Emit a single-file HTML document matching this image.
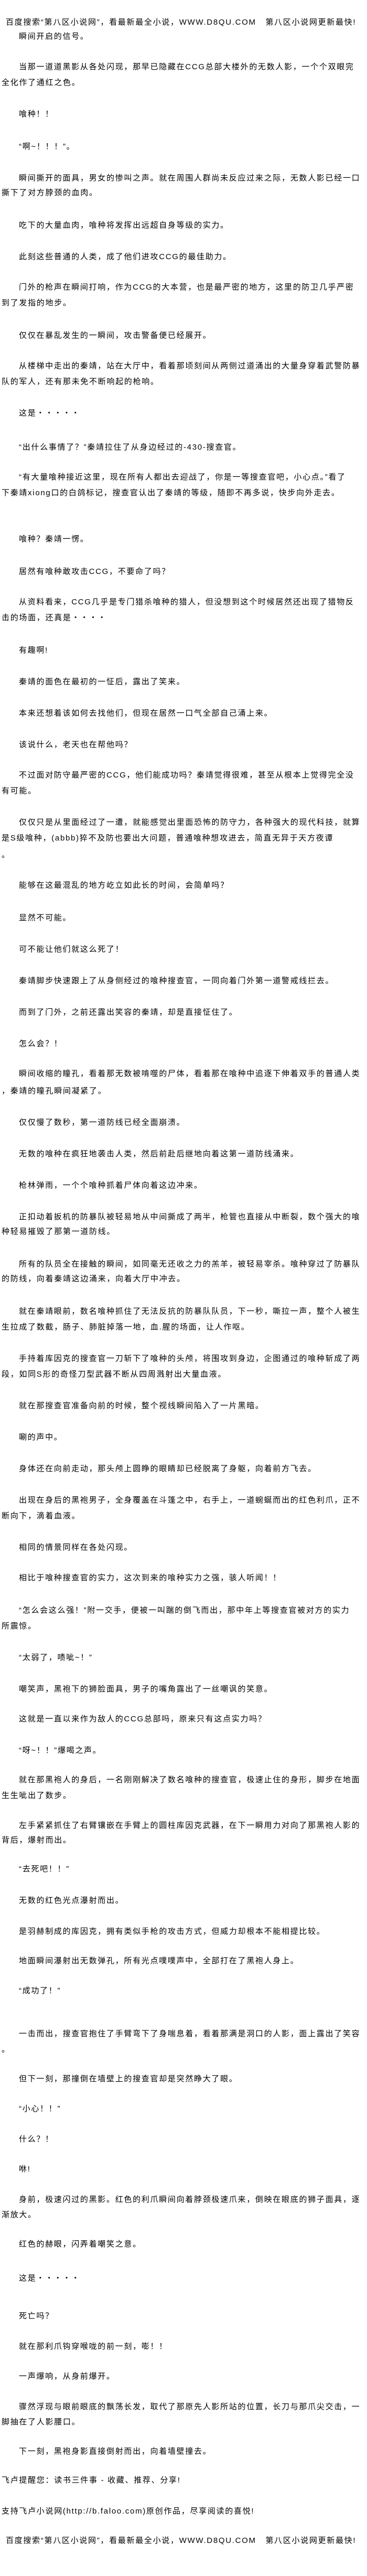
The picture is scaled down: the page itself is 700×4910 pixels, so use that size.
<!DOCTYPE html>
<html><head><meta charset="utf-8">
<style>
html,body{margin:0;padding:0;background:#fff;}
body{width:700px;height:4910px;position:relative;overflow:hidden;color:#000;
font-family:"Liberation Sans","Noto Sans CJK SC","WenQuanYi Zen Hei",sans-serif;}
.l{position:absolute;left:3px;white-space:nowrap;line-height:30px;height:30px;font-size:15px;letter-spacing:1.7px;}
.i{left:36px;}
.h{left:11px;}
</style></head><body>
<div class="l h" style="top:28px">百度搜索“第八区小说网”，看最新最全小说，WWW.D8QU.COM&nbsp;&nbsp;&nbsp;第八区小说网更新最快!</div>
<div class="l i" style="top:55px">瞬间开启的信号。</div>
<div class="l i" style="top:113px">当那一道道黑影从各处闪现，那早已隐藏在CCG总部大楼外的无数人影，一个个双眼完</div>
<div class="l" style="top:143px">全化作了通红之色。</div>
<div class="l i" style="top:203px">喰种！！</div>
<div class="l i" style="top:265px">“啊~！！！”。</div>
<div class="l i" style="top:325px">瞬间撕开的面具，男女的惨叫之声。就在周围人群尚未反应过来之际，无数人影已经一口</div>
<div class="l" style="top:353px">撕下了对方脖颈的血肉。</div>
<div class="l i" style="top:415px">吃下的大量血肉，喰种将发挥出远超自身等级的实力。</div>
<div class="l i" style="top:475px">此刻这些普通的人类，成了他们进攻CCG的最佳助力。</div>
<div class="l i" style="top:533px">门外的枪声在瞬间打响，作为CCG的大本营，也是最严密的地方，这里的防卫几乎严密</div>
<div class="l" style="top:563px">到了发指的地步。</div>
<div class="l i" style="top:625px">仅仅在暴乱发生的一瞬间，攻击警备便已经展开。</div>
<div class="l i" style="top:683px">从楼梯中走出的秦靖，站在大厅中，看着那顷刻间从两侧过道涌出的大量身穿着武警防暴</div>
<div class="l" style="top:713px">队的军人，还有那未免不断响起的枪响。</div>
<div class="l i" style="top:773px">这是・・・・・</div>
<div class="l i" style="top:838px">“出什么事情了？”秦靖拉住了从身边经过的-430-搜查官。</div>
<div class="l i" style="top:895px">“有大量喰种接近这里，现在所有人都出去迎战了，你是一等搜查官吧，小心点。”看了</div>
<div class="l" style="top:925px">下秦靖xiong口的白鸽标记，搜查官认出了秦靖的等级，随即不再多说，快步向外走去。</div>
<div class="l i" style="top:1013px">喰种？秦靖一愣。</div>
<div class="l i" style="top:1075px">居然有喰种敢攻击CCG，不要命了吗？</div>
<div class="l i" style="top:1133px">从资料看来，CCG几乎是专门猎杀喰种的猎人，但没想到这个时候居然还出现了猎物反</div>
<div class="l" style="top:1163px">击的场面，还真是・・・・</div>
<div class="l i" style="top:1225px">有趣啊!</div>
<div class="l i" style="top:1285px">秦靖的面色在最初的一怔后，露出了笑来。</div>
<div class="l i" style="top:1345px">本来还想着该如何去找他们，但现在居然一口气全部自己涌上来。</div>
<div class="l i" style="top:1405px">该说什么，老天也在帮他吗？</div>
<div class="l i" style="top:1463px">不过面对防守最严密的CCG，他们能成功吗？秦靖觉得很难，甚至从根本上觉得完全没</div>
<div class="l" style="top:1493px">有可能。</div>
<div class="l i" style="top:1553px">仅仅只是从里面经过了一遭，就能感觉出里面恐怖的防守力，各种强大的现代科技，就算</div>
<div class="l" style="top:1583px">是S级喰种，(abbb)猝不及防也要出大问题，普通喰种想攻进去，简直无异于天方夜谭</div>
<div class="l" style="top:1615px">。</div>
<div class="l i" style="top:1673px">能够在这最混乱的地方屹立如此长的时间，会简单吗？</div>
<div class="l i" style="top:1735px">显然不可能。</div>
<div class="l i" style="top:1795px">可不能让他们就这么死了！</div>
<div class="l i" style="top:1855px">秦靖脚步快速跟上了从身侧经过的喰种搜查官，一同向着门外第一道警戒线拦去。</div>
<div class="l i" style="top:1915px">而到了门外，之前还露出笑容的秦靖，却是直接怔住了。</div>
<div class="l i" style="top:1975px">怎么会？！</div>
<div class="l i" style="top:2032px">瞬间收缩的瞳孔，看着那无数被啃噬的尸体，看着那在喰种中追逐下伸着双手的普通人类</div>
<div class="l" style="top:2065px">，秦靖的瞳孔瞬间凝紧了。</div>
<div class="l i" style="top:2125px">仅仅慢了数秒，第一道防线已经全面崩溃。</div>
<div class="l i" style="top:2185px">无数的喰种在疯狂地袭击人类，然后前赴后继地向着这第一道防线涌来。</div>
<div class="l i" style="top:2245px">枪林弹雨，一个个喰种抓着尸体向着这边冲来。</div>
<div class="l i" style="top:2305px">正扣动着扳机的防暴队被轻易地从中间撕成了两半，枪管也直接从中断裂，数个强大的喰</div>
<div class="l" style="top:2333px">种轻易摧毁了那第一道防线。</div>
<div class="l i" style="top:2395px">所有的队员全在接触的瞬间，如同毫无还收之力的羔羊，被轻易宰杀。喰种穿过了防暴队</div>
<div class="l" style="top:2423px">的防线，向着秦靖这边涌来，向着大厅中冲去。</div>
<div class="l i" style="top:2485px">就在秦靖眼前，数名喰种抓住了无法反抗的防暴队队员，下一秒，嘶拉一声，整个人被生</div>
<div class="l" style="top:2515px">生拉成了数截，肠子、肺脏掉落一地，血.腥的场面，让人作呕。</div>
<div class="l i" style="top:2575px">手持着库因克的搜查官一刀斩下了喰种的头颅，将围攻到身边，企图通过的喰种斩成了两</div>
<div class="l" style="top:2605px">段，如同S形的奇怪刀型武器不断从四周溅射出大量血液。</div>
<div class="l i" style="top:2665px">就在那搜查官准备向前的时候，整个视线瞬间陷入了一片黑暗。</div>
<div class="l i" style="top:2725px">唰的声中。</div>
<div class="l i" style="top:2785px">身体还在向前走动，那头颅上圆睁的眼睛却已经脱离了身躯，向着前方飞去。</div>
<div class="l i" style="top:2845px">出现在身后的黑袍男子，全身覆盖在斗篷之中，右手上，一道蜿蜒而出的红色利爪，正不</div>
<div class="l" style="top:2875px">断向下，滴着血液。</div>
<div class="l i" style="top:2935px">相同的情景同样在各处闪现。</div>
<div class="l i" style="top:2993px">相比于喰种搜查官的实力，这次到来的喰种实力之强，骇人听闻！！</div>
<div class="l i" style="top:3055px">“怎么会这么强！”附一交手，便被一叫踹的倒飞而出，那中年上等搜查官被对方的实力</div>
<div class="l" style="top:3085px">所震惊。</div>
<div class="l i" style="top:3145px">“太弱了，啧呲~！”</div>
<div class="l i" style="top:3205px">嘲笑声，黑袍下的狮脸面具，男子的嘴角露出了一丝嘲讽的笑意。</div>
<div class="l i" style="top:3262px">这就是一直以来作为敌人的CCG总部吗，原来只有这点实力吗？</div>
<div class="l i" style="top:3322px">“呀~！！”爆喝之声。</div>
<div class="l i" style="top:3378px">就在那黑袍人的身后，一名刚刚解决了数名喰种的搜查官，极速止住的身形，脚步在地面</div>
<div class="l" style="top:3408px">生生呲出了数步。</div>
<div class="l i" style="top:3465px">左手紧紧抓住了右臂镶嵌在手臂上的圆柱库因克武器，在下一瞬用力对向了那黑袍人影的</div>
<div class="l" style="top:3493px">背后，爆射而出。</div>
<div class="l i" style="top:3548px">“去死吧！！”</div>
<div class="l i" style="top:3608px">无数的红色光点瀑射而出。</div>
<div class="l i" style="top:3667px">是羽赫制成的库因克，拥有类似手枪的攻击方式，但威力却根本不能相提比较。</div>
<div class="l i" style="top:3723px">地面瞬间瀑射出无数弹孔，所有光点噗噗声中，全部打在了黑袍人身上。</div>
<div class="l i" style="top:3780px">“成功了！”</div>
<div class="l i" style="top:3862px">一击而出，搜查官抱住了手臂弯下了身喘息着，看着那满是洞口的人影，面上露出了笑容</div>
<div class="l" style="top:3892px">。</div>
<div class="l i" style="top:3948px">但下一刻，那撞倒在墙壁上的搜查官却是突然睁大了眼。</div>
<div class="l i" style="top:4005px">“小心！！”</div>
<div class="l i" style="top:4063px">什么？！</div>
<div class="l i" style="top:4120px">咻!</div>
<div class="l i" style="top:4178px">身前，极速闪过的黑影。红色的利爪瞬间向着脖颈极速爪来，倒映在眼底的狮子面具，逐</div>
<div class="l" style="top:4207px">渐放大。</div>
<div class="l i" style="top:4263px">红色的赫眼，闪弄着嘲笑之意。</div>
<div class="l i" style="top:4328px">这是・・・・・</div>
<div class="l i" style="top:4400px">死亡吗？</div>
<div class="l i" style="top:4458px">就在那利爪钩穿喉咙的前一刻，嘭！！</div>
<div class="l i" style="top:4515px">一声爆响，从身前爆开。</div>
<div class="l i" style="top:4573px">骤然浮现与眼前眼底的飘荡长发，取代了那原先人影所站的位置，长刀与那爪尖交击，一</div>
<div class="l" style="top:4602px">脚抽在了人影腰口。</div>
<div class="l i" style="top:4658px">下一刻，黑袍身影直接倒射而出，向着墙壁撞去。</div>
<div class="l" style="top:4713px">飞卢提醒您：读书三件事 - 收藏、推荐、分享!</div>
<div class="l" style="top:4772px">支持飞卢小说网(http://b.faloo.com)原创作品，尽享阅读的喜悦!</div>
<div class="l h" style="top:4828px">百度搜索“第八区小说网”，看最新最全小说，WWW.D8QU.COM&nbsp;&nbsp;&nbsp;第八区小说网更新最快!</div>
</body></html>
